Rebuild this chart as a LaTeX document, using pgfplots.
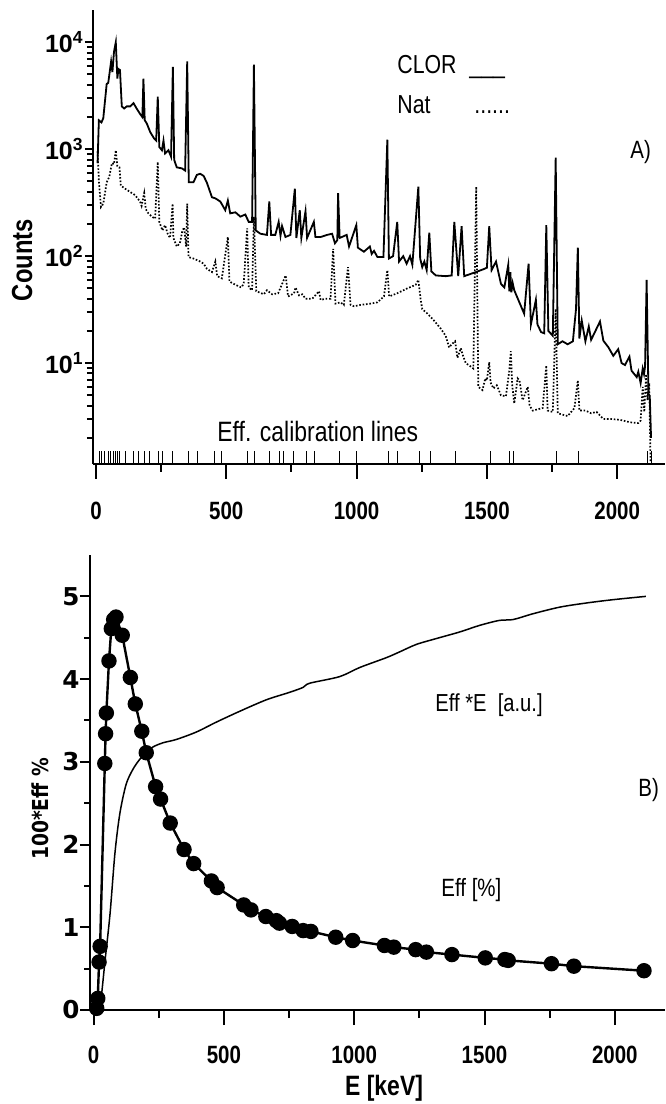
\documentclass[border=0pt]{standalone}
\usepackage{fontspec}
\setmainfont{Liberation Sans}
\newfontfamily\cond{Liberation Sans}[FakeStretch=0.82]
\newfontfamily\dejavu{DejaVu Sans}
\newfontfamily\dejavucond{DejaVu Sans}[FakeStretch=0.85]
\usepackage{pgfplots}
\pgfplotsset{compat=1.18}
\begin{document}
\begin{tikzpicture}
\useasboundingbox (0,0) rectangle (332.5pt,-552pt);
% ---------------- top panel ----------------
\begin{axis}[
  at={(46.5pt,-232pt)}, anchor=south west,
  width=286pt, height=227pt, scale only axis,
  xmin=-11.5, xmax=2183.5,
  ymode=log, log basis y=10, ymin=1.14, ymax=20000,
  axis x line=bottom, axis y line=left,
  axis line style={-, line width=1pt},
  tick align=outside,
  major tick length=7.5pt, minor tick length=4pt,
  tick style={line width=1pt, black},
  y tick style={/pgfplots/major tick length=4pt, /pgfplots/minor tick length=3pt},
  xtick={0,500,1000,1500,2000}, minor xtick={250,750,1250,1750},
  xticklabels={0,500,1000,1500,2000},
  xticklabel style={font=\cond\bfseries\fontsize{12.5pt}{13pt}\selectfont, yshift=-8pt},
  yticklabel={10\textsuperscript{\pgfmathparse{int(round(\tick))}\pgfmathresult}},
  yticklabel style={font=\bfseries\fontsize{12.5pt}{13pt}\selectfont, inner xsep=0pt, xshift=3pt},
  ylabel={Counts},
  ylabel style={at={(axis description cs:-0.124,0.449)}, anchor=center,
    font=\cond\bfseries\fontsize{14.5pt}{15pt}\selectfont},
  clip=true,
]
% calibration lines
\addplot[ycomb, line width=0.5pt, black, no markers] coordinates {
(15,1.5) (22,1.5) (31,1.5) (47,1.5) (57,1.5) (67,1.5) (76,1.5) (82,1.5) (90,1.5)
(112,1.5) (144,1.5) (163,1.5) (185,1.5) (205,1.5) (241,1.5) (254,1.5) (295,1.5)
(355,1.5) (390,1.5) (455,1.5) (481,1.5) (580,1.5) (609,1.5) (667,1.5) (703,1.5)
(721,1.5) (759,1.5) (808,1.5) (840,1.5) (935,1.5) (1000,1.5) (1123,1.5) (1156,1.5)
(1241,1.5) (1282,1.5) (1380,1.5) (1512,1.5) (1587,1.5) (1601,1.5) (1767,1.5)
(1850,1.5) (2118,1.5) (2131,1.5)};
% CLOR spectrum
\addplot[line width=0.9pt, black, no markers] coordinates {
(6,741) (11,1862) (21,1778) (28,1950) (41,4074) (47,4169) (58,6607) (63,5248)
(69,8128) (76,10000) (82,4571) (86,5623) (92,5495) (99,2512) (108,2399) (118,2512)
(131,2512) (144,2692) (156,2399) (169,2138) (178,1995) (182,4571) (187,1862)
(195,1738) (208,1445) (223,1259) (231,1202) (237,3090) (243,1047) (253,977)
(259,1202) (265,912) (278,977) (288,851) (295,5888) (300,794) (310,676) (330,661)
(342,631) (350,6607) (356,490) (374,490) (387,575) (400,589) (413,562) (425,490)
(445,355) (458,347) (477,324) (496,269) (506,331) (515,251) (535,257) (554,234)
(573,245) (586,209) (599,209) (606,6166) (613,174) (631,162) (656,158) (665,324)
(672,158) (688,158) (701,209) (708,155) (714,191) (727,151) (746,158) (763,427)
(769,148) (782,269) (788,148) (804,263) (810,148) (836,209) (842,151) (862,151)
(887,158) (906,162) (917,132) (926,141) (929,389) (935,148) (962,158) (971,123)
(999,195) (1005,120) (1028,110) (1051,123) (1058,105) (1067,112) (1080,98)
(1103,98) (1118,1230) (1124,95) (1140,100) (1156,209) (1163,89) (1179,100)
(1192,85) (1205,100) (1214,83) (1237,447) (1244,95) (1252,79) (1260,89) (1269,74)
(1279,166) (1287,72) (1304,66) (1342,65) (1365,66) (1375,209) (1390,65) (1403,191)
(1413,65) (1458,71) (1490,76) (1500,78) (1509,191) (1518,74) (1535,89) (1554,55)
(1567,51) (1582,83) (1586,47) (1590,71) (1594,46) (1599,56) (1605,48) (1631,34)
(1643,29) (1660,85) (1669,23) (1688,39) (1694,23) (1708,19.5) (1720,19) (1728,195)
(1736,20) (1753,18) (1764,832) (1772,15) (1790,16) (1810,15) (1830,16) (1842,32)
(1849,120) (1855,17) (1864,25) (1878,16) (1891,22) (1900,16.5) (1934,24.5)
(1947,16.2) (1966,14.1) (1985,11.7) (2004,13.5) (2017,10) (2030,9.6) (2047,11.5)
(2055,8.5) (2075,7.4) (2081,8.3) (2090,6.5) (2098,8.9) (2103,7.9) (2107,9.3)
(2113,60) (2120,5.2) (2125,4.9) (2130,2.0)};
% Nat spectrum
\addplot[line width=0.85pt, black, dash pattern=on 0.8pt off 0.9pt, no markers] coordinates {
(6,955) (11,513) (19,288) (28,309) (41,490) (51,550) (61,741) (69,724) (76,977)
(82,692) (90,676) (95,457) (112,427) (131,398) (150,372) (169,324) (175,295)
(185,389) (191,275) (201,251) (214,234) (227,224) (237,759) (243,209) (255,174)
(265,195) (275,162) (284,148) (294,309) (297,148) (310,123) (322,132) (331,170)
(338,186) (346,123) (350,309) (355,98) (374,95) (400,89) (413,85) (426,76) (445,71)
(458,89) (465,65) (483,62) (506,151) (512,58) (535,54) (557,51) (567,55) (580,182)
(586,51) (599,48) (606,234) (615,47) (644,44) (656,48) (676,44) (699,45) (728,66)
(737,42) (760,45) (766,51) (779,43) (792,44) (804,40) (830,40) (856,47) (862,39)
(881,40) (900,40) (910,117) (919,36) (938,37) (951,35) (967,79) (977,35) (990,34)
(1015,35) (1054,36) (1080,37) (1105,42) (1118,74) (1125,42) (1156,45) (1195,50)
(1227,54) (1237,60) (1246,39) (1252,32) (1272,29) (1297,25) (1323,21) (1342,18)
(1355,14) (1365,15) (1378,16) (1387,11.2) (1400,13.8) (1407,12) (1419,10)
(1438,9.3) (1448,8.9) (1459,447) (1467,6.0) (1483,5.6) (1494,7.2) (1500,6.9)
(1509,10.2) (1514,6.6) (1525,5.8) (1538,6.2) (1554,5.0) (1573,4.9) (1586,8.5)
(1592,12.9) (1597,6.3) (1605,4.2) (1618,7.2) (1625,6.9) (1637,4.5) (1657,6.0)
(1664,4.0) (1676,3.6) (1695,3.7) (1714,3.8) (1728,9.5) (1733,3.6) (1753,3.5)
(1764,32) (1772,3.4) (1790,3.3) (1810,3.2) (1836,3.8) (1849,6.9) (1855,3.6)
(1878,3.6) (1900,3.4) (1921,3.5) (1947,3.0) (1977,3.0) (2011,2.95) (2049,2.8)
(2081,2.75) (2090,2.9) (2098,6.0) (2104,3.5) (2111,7.9) (2116,4.5) (2123,6.5)
(2128,1.2)};
\end{axis}
% ---------------- bottom panel ----------------
\begin{axis}[
  at={(45.25pt,-505pt)}, anchor=south west,
  width=287.25pt, height=227.5pt, scale only axis,
  xmin=-11.9, xmax=2192.6, ymin=0, ymax=5.5,
  axis x line=bottom, axis y line=left,
  axis line style={-, line width=1pt},
  tick align=outside,
  major tick length=7.5pt, minor tick length=4pt,
  tick style={line width=1pt, black},
  y tick style={/pgfplots/major tick length=5.3pt, /pgfplots/minor tick length=3pt},
  xtick={0,500,1000,1500,2000}, minor xtick={250,750,1250,1750},
  xticklabels={0,500,1000,1500,2000},
  xticklabel style={font=\cond\bfseries\fontsize{12.5pt}{13pt}\selectfont, yshift=-7pt},
  ytick={0,1,2,3,4,5}, minor ytick={0.5,1.5,2.5,3.5,4.5},
  yticklabels={0,1,2,3,4,5},
  yticklabel style={font=\dejavu\bfseries\fontsize{12.3pt}{13pt}\selectfont, inner xsep=0pt, xshift=2.2pt},
  ylabel={100*Eff \%},
  ylabel style={at={(axis description cs:-0.088,0.442)}, anchor=center,
    font=\dejavucond\bfseries\fontsize{11pt}{12pt}\selectfont},
  xlabel={E [keV]},
  xlabel style={at={(axis description cs:0.511,-0.173)}, anchor=center,
    font=\cond\bfseries\fontsize{14pt}{15pt}\selectfont},
  clip=false,
]
% Eff*E [a.u.]
\addplot[line width=0.75pt, black, no markers, smooth] coordinates {
(22,0.0) (31,0.2) (44,0.6) (63,1.16) (82,1.9) (101,2.38) (125,2.73) (151,2.91)
(177,3.03) (202,3.11) (228,3.18) (266,3.23) (317,3.27) (394,3.36) (471,3.48)
(560,3.61) (663,3.75) (752,3.84) (804,3.90) (829,3.95) (944,4.03) (1021,4.14)
(1124,4.26) (1175,4.33) (1239,4.42) (1315,4.49) (1405,4.57) (1482,4.65)
(1558,4.71) (1610,4.72) (1686,4.79) (1789,4.87) (1891,4.92) (1993,4.96) (2119,5.00)};
% Eff [%]
\addplot[line width=1.2pt, black, mark=*, mark size=3.25pt, mark options={fill=black}] coordinates {
(12,0.02) (16,0.14) (21,0.58) (25,0.77) (43,2.98) (46,3.34) (49,3.59) (59,4.22)
(68,4.61) (77,4.72) (86,4.75) (110,4.53) (141,4.02) (160,3.70) (185,3.37)
(202,3.11) (238,2.70) (257,2.55) (294,2.26) (347,1.94) (384,1.77) (452,1.56)
(474,1.48) (576,1.27) (604,1.21) (661,1.13) (701,1.08) (713,1.05) (762,1.01)
(804,0.96) (834,0.95) (929,0.88) (994,0.84) (1116,0.78) (1152,0.76) (1236,0.73)
(1277,0.70) (1375,0.67) (1503,0.63) (1578,0.61) (1591,0.60) (1757,0.56)
(1843,0.53) (2112,0.475)};
\end{axis}
% ---------------- texts ----------------
\node[anchor=base west, inner sep=0pt, font=\cond\fontsize{13pt}{13pt}\selectfont] at (198.5pt,-36.5pt) {CLOR};
\node[anchor=base west, inner sep=0pt, font=\cond\fontsize{13pt}{13pt}\selectfont] at (234.5pt,-36.5pt) {\_\_\_};
\node[anchor=base west, inner sep=0pt, font=\cond\fontsize{13pt}{13pt}\selectfont] at (198.5pt,-56.5pt) {Nat};
\node[anchor=base west, inner sep=0pt, font=\cond\fontsize{13pt}{13pt}\selectfont] at (237pt,-56.5pt) {......};
\node[anchor=base west, inner sep=0pt, font=\cond\fontsize{12.5pt}{13pt}\selectfont] at (315pt,-79pt) {A)};
\node[anchor=base west, inner sep=0pt, font=\cond\fontsize{14pt}{14pt}\selectfont] at (108.5pt,-220.8pt) {Eff. calibration lines};
\node[anchor=base west, inner sep=0pt, font=\cond\fontsize{12.3pt}{13pt}\selectfont] at (217.5pt,-355.8pt) {Eff *E\ \ [a.u.]};
\node[anchor=base west, inner sep=0pt, font=\cond\fontsize{12.5pt}{13pt}\selectfont] at (319pt,-398.3pt) {B)};
\node[anchor=base west, inner sep=0pt, font=\cond\fontsize{12.5pt}{13pt}\selectfont] at (220.5pt,-448pt) {Eff [\%]};
\end{tikzpicture}
\end{document}
